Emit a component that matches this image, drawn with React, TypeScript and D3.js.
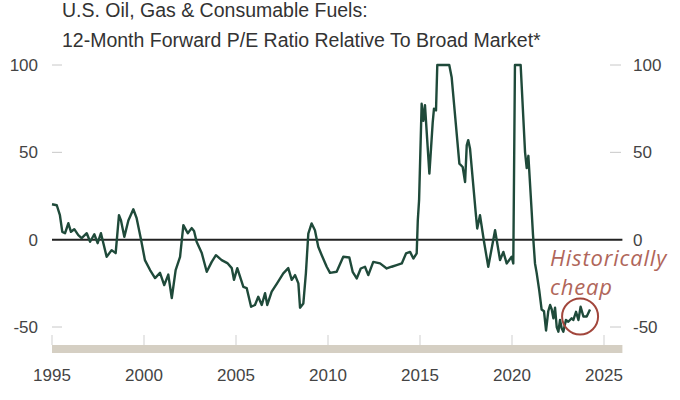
import React from 'react';
import * as d3 from 'd3';

// Relative forward P/E (%) (values clipped at 100)
const years = [
  1995.0, 1995.26, 1995.43, 1995.56, 1995.71, 1995.89, 1996.03, 1996.21, 1996.43, 1996.61,
  1996.89, 1997.07, 1997.3, 1997.48, 1997.66, 1997.97, 1998.24, 1998.46, 1998.64, 1998.75,
  1998.93, 1999.15, 1999.42, 1999.6, 1999.84, 2000.05, 2000.33, 2000.6, 2000.87, 2001.1,
  2001.32, 2001.51, 2001.72, 2001.96, 2002.14, 2002.38, 2002.59, 2002.72, 2002.86, 2003.14,
  2003.41, 2003.68, 2003.91, 2004.22, 2004.53, 2004.77, 2004.89, 2005.07, 2005.4, 2005.58,
  2005.82, 2006.03, 2006.21, 2006.4, 2006.58, 2006.7, 2006.94, 2007.24, 2007.57, 2007.84,
  2008.03, 2008.21, 2008.39, 2008.48, 2008.66, 2008.8, 2008.93, 2009.11, 2009.29, 2009.47,
  2009.66, 2009.93, 2010.11, 2010.47, 2010.83, 2011.16, 2011.34, 2011.56, 2011.78, 2012.01,
  2012.19, 2012.46, 2012.83, 2013.19, 2013.46, 2013.73, 2014.01, 2014.24, 2014.46, 2014.64,
  2014.82, 2014.88, 2014.95, 2015.09, 2015.18, 2015.27, 2015.51, 2015.69, 2015.76, 2015.87,
  2015.94, 2016.59, 2016.72, 2017.14, 2017.32, 2017.45, 2017.54, 2017.62, 2017.72, 2018.04,
  2018.11, 2018.26, 2018.48, 2018.71, 2019.08, 2019.35, 2019.53, 2019.71, 2019.98, 2020.07,
  2020.16, 2020.47, 2020.71, 2020.8, 2020.89, 2021.07, 2021.14, 2021.25, 2021.34, 2021.48,
  2021.61, 2021.74, 2021.85, 2021.97, 2022.07, 2022.16, 2022.25, 2022.34, 2022.43, 2022.52,
  2022.61, 2022.7, 2022.79, 2022.93, 2023.06, 2023.24, 2023.33, 2023.48, 2023.61, 2023.73,
  2023.88, 2024.06, 2024.24,
];
const values = [
  20.3, 19.7, 14, 4.5, 3.7, 9.4, 4.5, 6, 2.6, 0.9,
  3.7, -1.2, 3.1, -2, 3.7, -9.8, -6, -7.7, 14, 11,
  1.6, 11, 17.4, 12.3, 0, -11.7, -17.4, -22, -19, -26,
  -20, -33.4, -17.4, -9.8, 8.3, 3.7, 6.6, 5, -1.2, -7.7,
  -18.4, -12.7, -8.9, -11.7, -13.4, -16.3, -23, -16.3, -27, -27.7,
  -38.4, -37.4, -32.7, -37.4, -30.6, -37.4, -29.8, -24.9, -19.3, -16.3,
  -23, -20.3, -25, -39, -36.5, -19, 3.5, 9.3, 5.4, -4.1,
  -8.9, -15.5, -19, -18.4, -9.8, -10.2, -18.4, -22.2, -16.5, -15.5,
  -20.3, -12.7, -13.6, -16.5, -15.5, -14.6, -13.6, -7.9, -7, -10.8,
  -7.9, 11, 22.6, 77.8, 68, 77, 37.8, 67, 75, 74,
  100, 100, 93, 43.5, 41.6, 33, 54, 57, 52, 14,
  6.4, 14, -1.2, -15.5, 5.4, -11.7, -7, -13.6, -9.8, -13.6,
  100, 100, 50, 41, 48, 16, 3, -13.6, -19, -29,
  -40, -41, -52, -41, -37.4, -40, -45, -39, -50, -52.7,
  -46, -50.7, -52.7, -46, -47, -45, -46, -41.3, -46, -38.4,
  -44, -44, -40,
];

const xTicks = [1995, 2000, 2005, 2010, 2015, 2020, 2025];
const yTicks = [100, 50, 0, -50];
const titleLines = [
  'U.S. Oil, Gas & Consumable Fuels:',
  '12-Month Forward P/E Ratio Relative To Broad Market*',
];
const noteLines = ['Historically', 'cheap'];
const circledAt = { year: 2023.7, value: -44 };

const W = 680;
const H = 400;

export default function App() {
  const x = d3.scaleLinear().domain([1995, 2025]).range([52, 604]);
  const y = d3.scaleLinear().domain([-50, 100]).range([327, 65]);
  const plotRight = x(2026);

  const points = years.map((yr, i) => [yr, values[i]] as [number, number]);
  const line = d3
    .line<[number, number]>()
    .x(d => x(d[0]))
    .y(d => y(d[1]));

  const font = '"Liberation Sans", Arial, sans-serif';

  return (
    <svg width={W} height={H} style={{ position: 'absolute', left: 0, top: 0, background: '#fff' }}>
      {/* title */}
      {titleLines.map((t, i) => (
        <text key={t} x={62} y={17 + i * 30} fontFamily={font} fontSize={19.5} fill="#333">
          {t}
        </text>
      ))}

      {/* y labels, both sides */}
      {yTicks.map(v => (
        <g key={v}>
          <text x={38} y={y(v)} dy="0.36em" textAnchor="end" fontFamily={font} fontSize={17} fill="#444">
            {v}
          </text>
          <line x1={52} x2={62} y1={y(v)} y2={y(v)} stroke="#c8c8c8" strokeWidth={1} />
          <text x={633} y={y(v)} dy="0.36em" fontFamily={font} fontSize={17} fill="#444">
            {v}
          </text>
          <line x1={610} x2={621} y1={y(v)} y2={y(v)} stroke="#c8c8c8" strokeWidth={1} />
        </g>
      ))}

      {/* bottom band and ticks */}
      <rect x={52} y={345} width={plotRight - 52} height={8} fill="#d5cfc3" />
      {xTicks.map(t => (
        <g key={t}>
          <line x1={x(t)} x2={x(t)} y1={335} y2={345} stroke="#cfcfcf" strokeWidth={1} />
          <text x={x(t)} y={381} textAnchor="middle" fontFamily={font} fontSize={17} fill="#444">
            {t}
          </text>
        </g>
      ))}

      {/* zero line */}
      <line x1={52} x2={plotRight} y1={y(0)} y2={y(0)} stroke="#222" strokeWidth={2} />

      {/* series */}
      <path d={line(points) ?? ''} fill="none" stroke="#1f4a3a" strokeWidth={2.4} strokeLinejoin="round" />

      {/* annotation */}
      {noteLines.map((t, i) => (
        <text
          key={t}
          x={550}
          y={266 + i * 29}
          fontFamily='"Open Sans", sans-serif'
          fontStyle="italic"
          fontSize={22}
          letterSpacing={0.8}
          fill="#b0665a"
        >
          {t}
        </text>
      ))}
      <circle
        cx={x(circledAt.year)}
        cy={y(circledAt.value)}
        r={18}
        fill="none"
        stroke="#a2463c"
        strokeWidth={2}
      />
    </svg>
  );
}
